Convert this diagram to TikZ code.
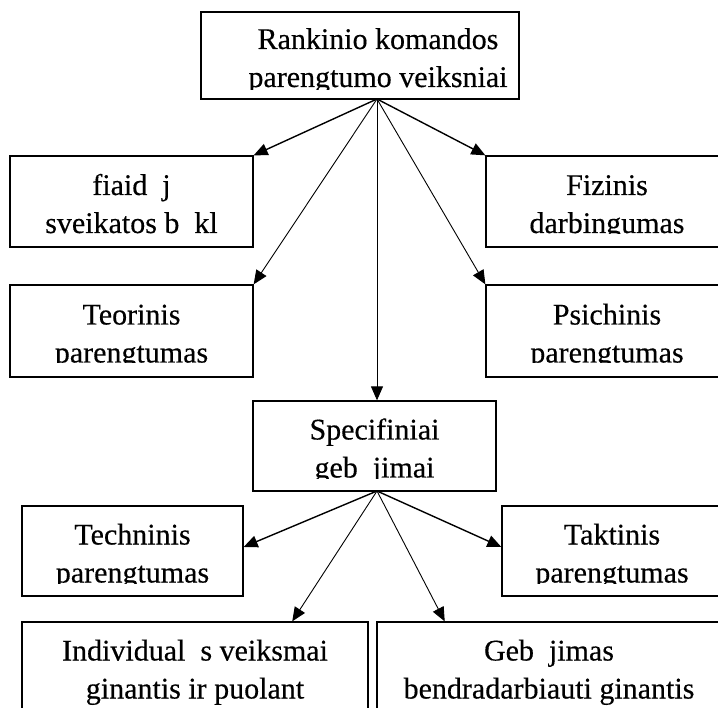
\documentclass[tikz,border=0pt]{standalone}
\usepackage{fontspec}
\setmainfont[FakeBold=0.35]{Liberation Serif}
\usetikzlibrary{arrows.meta,calc}
\newcommand\sts{\rule[-6.5pt]{0pt}{38pt}}
\newcommand\twol[2]{\sts #1\\\sts #2}
\begin{document}
\begin{tikzpicture}[x=1pt,y=-1pt,
  box/.style={draw,line width=1.3pt,rectangle,inner sep=0pt,align=center,
    minimum height=90pt,font=\fontsize{30}{38}\selectfont},
  arr/.style={-{Triangle[length=14pt,width=12pt]},line width=1.4pt},
  arrthin/.style={-{Triangle[length=14pt,width=12pt]},line width=0.9pt},
  cutstrip/.style={fill=white}]
\useasboundingbox (0,0) rectangle (718,708);
\clip (0,0) rectangle (718,708);

\node[box,minimum width=318pt,minimum height=87pt] (top) at (360,55.5)
  {\twol{\hspace*{36pt}Rankinio komandos}{\hspace*{36pt}parengtumo veiksniai}};
\node[box,minimum width=243pt,minimum height=91pt] (zaid) at (131.5,201.5)
  {\twol{fiaid\ \ j}{sveikatos b\ \ kl}};
\node[box,minimum width=243pt,minimum height=92pt] (teor) at (131.5,331)
  {\twol{Teorinis}{parengtumas}};
\node[box,minimum width=242pt,minimum height=91pt] (fiz) at (607,201.5)
  {\twol{Fizinis}{darbingumas}};
\node[box,minimum width=242pt,minimum height=92pt] (psi) at (607,331)
  {\twol{Psichinis}{parengtumas}};
\node[box,minimum width=243pt] (spec) at (374.5,446)
  {\twol{Specifiniai}{geb\ \ jimai}};
\node[box,minimum width=221pt] (tech) at (132.5,551)
  {\twol{Techninis}{parengtumas}};
\node[box,minimum width=220pt] (takt) at (612,551)
  {\twol{Taktinis}{parengtumas}};
\node[box,minimum width=346pt] (indiv) at (195,667)
  {\twol{Individual\ \ s veiksmai}{ginantis ir puolant}};
\node[box,minimum width=344pt] (geb) at (549,667)
  {\twol{Geb\ \ jimas}{bendradarbiauti ginantis}};

% text cut-off strips (text clipped inside the boxes)
\foreach \n/\d in {top/79,zaid/79,teor/79,fiz/79,psi/79,spec/79,tech/79,takt/79}{
  \fill[cutstrip] ($(\n.north west)+(1.2,\d)$) rectangle ($(\n.south east)+(-1.2,-1.2)$);
}

\coordinate (o1) at (377,99);
\coordinate (o2) at (377,491);

\draw[arr] (o1) -- (zaid.north east);
\draw[arrthin] (o1) -- (teor.north east);
\draw[arrthin] (o1) -- (o1 |- spec.north);
\draw[arrthin] (o1) -- (psi.north west);
\draw[arr] (o1) -- (fiz.north west);

\draw[arr] (o2) -- ($(tech.east)+(0,-4)$);
\draw[arrthin] (o2) -- ($(indiv.north west)!0.78!(indiv.north east)$);
\draw[arrthin] (o2) -- ($(geb.north west)!0.198!(geb.north east)$);
\draw[arr] (o2) -- ($(takt.west)+(0,-4)$);
\end{tikzpicture}
\end{document}
